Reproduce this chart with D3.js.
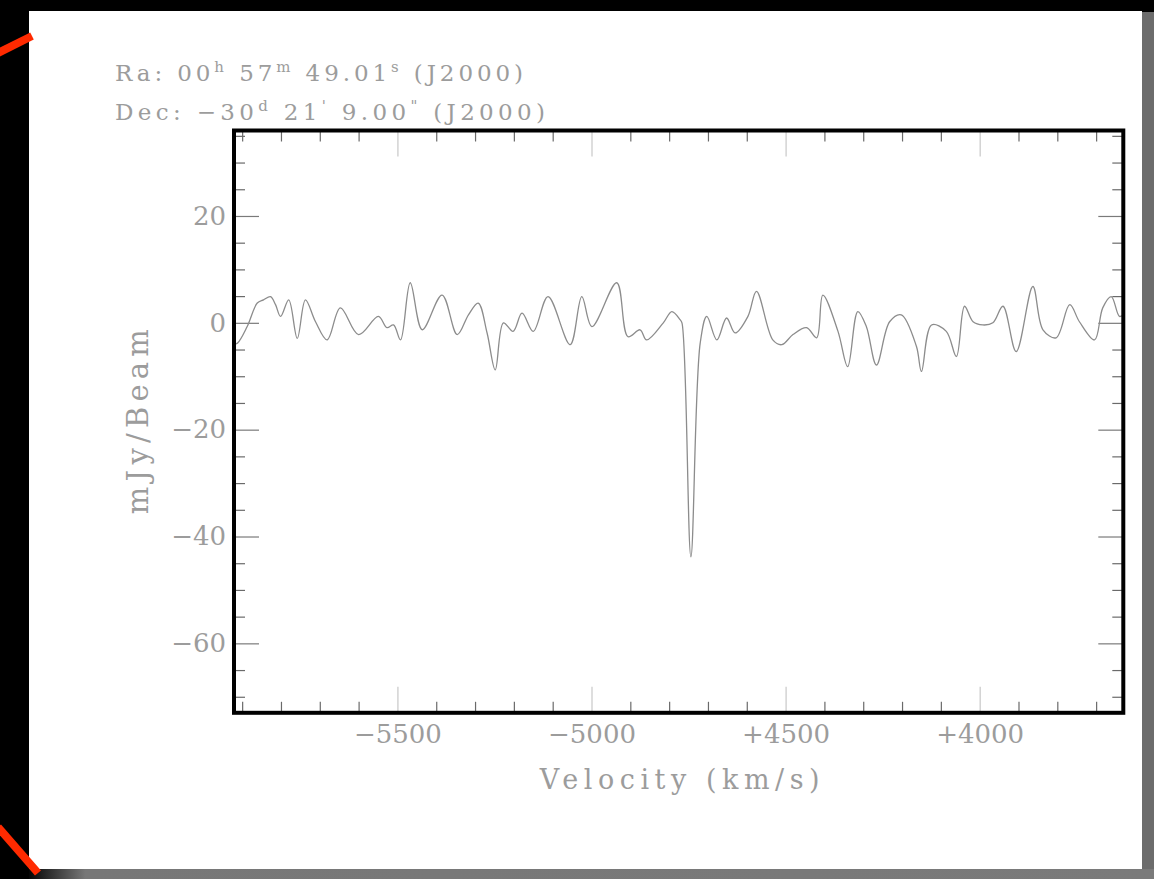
<!DOCTYPE html>
<html>
<head>
<meta charset="utf-8">
<script src="https://cdn.jsdelivr.net/npm/d3@7"></script>
<style>
  html, body { margin: 0; padding: 0; background: #000; }
  svg { display: block; }
</style>
</head>
<body>
<svg id="chart" width="1154" height="879"></svg>
<script>
// ---- data ----
const velocity = [
  -5922, -5912, -5887, -5861, -5845, -5827, -5814, -5801, -5780, -5758,
  -5737, -5711, -5681, -5647, -5600, -5549, -5527, -5510, -5492, -5467,
  -5436, -5385, -5346, -5317, -5292, -5269, -5248, -5227, -5202, -5179,
  -5150, -5112, -5055, -5025, -4999, -4935, -4906, -4875, -4858, -4815,
  -4793, -4772, -4767, -4744, -4720, -4703, -4677, -4652, -4630, -4597,
  -4575, -4533, -4510, -4481, -4446, -4420, -4404, -4365, -4340, -4314,
  -4292, -4266, -4232, -4202, -4163, -4150, -4124, -4086, -4060, -4039,
  -4017, -3992, -3966, -3940, -3906, -3863, -3837, -3803, -3768, -3743,
  -3704, -3683, -3661, -3640, -3630
];
const flux = [
  -4.0, -3.8, -0.7, 3.7, 4.3, 4.9, 3.4, 1.2, 4.3, -2.9,
  4.3, 0.2, -3.2, 2.8, -2.2, 1.2, -0.9, -0.4, -3.2, 7.5,
  -1.3, 5.2, -2.2, 1.5, 3.7, -1.9, -8.8, 0.0, -1.6, 1.8,
  -1.6, 4.9, -4.1, 4.9, -0.7, 7.5, -2.6, -1.3, -3.2, 0.0,
  2.1, 0.6, 0.0, -43.8, -3.8, 1.2, -3.2, 0.9, -1.9, 1.2,
  5.9, -3.2, -4.1, -2.2, -0.9, -2.8, 5.2, -1.6, -8.2, 2.1,
  -0.7, -7.9, 0.2, 1.5, -4.4, -9.1, -0.4, -1.6, -6.3, 3.1,
  0.2, -0.4, 0.0, 3.1, -5.4, 6.8, -1.3, -2.8, 3.4, 0.2,
  -3.2, 2.8, 4.9, 1.2, 1.5
];
const xDomain = [-5921, -3630];
const yDomain = [-73, 36];
const xMajorTicks = [-5500, -5000, -4500, -4000];
const xMajorLabels = ["\u22125500", "\u22125000", "+4500", "+4000"];
const xMinorTicks = [-5900, -5800, -5700, -5600, -5400, -5300, -5200, -5100,
                     -4900, -4800, -4700, -4600, -4400, -4300, -4200, -4100,
                     -3900, -3800, -3700];
const yMajorTicks = [20, 0, -20, -40, -60];
const yMajorLabels = ["20", "0", "\u221220", "\u221240", "\u221260"];
const yMinorTicks = [35, 30, 25, 15, 10, 5, -5, -10, -15, -25, -30, -35,
                     -45, -50, -55, -65, -70];
const xTitle = "Velocity (km/s)";
const yTitle = "mJy/Beam";

// ---- layout ----
const svg = d3.select("#chart");
const L = 234, R = 1123.3, T = 130.5, B = 712.8;
const font = "'DejaVu Serif', 'Liberation Serif', serif";
const textGray = "#9c9c9c";

// frame / background
const defs = svg.append("defs");
const grad = defs.append("linearGradient").attr("id", "shade")
  .attr("x1", "0").attr("x2", "1").attr("y1", "0").attr("y2", "0");
grad.append("stop").attr("offset", "0").attr("stop-color", "#050505");
grad.append("stop").attr("offset", "0.05").attr("stop-color", "#777");
grad.append("stop").attr("offset", "1").attr("stop-color", "#7a7a7a");
defs.append("clipPath").attr("id", "plotclip").append("rect")
  .attr("x", L).attr("y", T).attr("width", R - L).attr("height", B - T);

svg.append("rect").attr("x", 1142).attr("y", 12).attr("width", 12).attr("height", 867).attr("fill", "#6c6c6c");
svg.append("rect").attr("x", 29).attr("y", 869).attr("width", 1125).attr("height", 10).attr("fill", "url(#shade)");
svg.append("rect").attr("x", 29).attr("y", 11).attr("width", 1113).attr("height", 858).attr("fill", "#fff");
svg.append("line").attr("x1", -2).attr("y1", 53).attr("x2", 32).attr("y2", 36)
  .attr("stroke", "#ff2a00").attr("stroke-width", 8);
svg.append("line").attr("x1", -2).attr("y1", 827).attr("x2", 38).attr("y2", 873)
  .attr("stroke", "#ff2a00").attr("stroke-width", 8);

// scales
const x = d3.scaleLinear().domain(xDomain).range([L, R]);
const y = d3.scaleLinear().domain(yDomain).range([B, T]);

function styleAxis(g, color, width) {
  g.select(".domain").remove();
  g.selectAll(".tick line").attr("stroke", color).attr("stroke-width", width);
  g.selectAll("text").attr("fill", textGray).attr("font-family", font).attr("font-size", 26);
}

// x axes (inward ticks)
const bottomMajor = svg.append("g").attr("transform", `translate(0,${B})`)
  .call(d3.axisBottom(x).tickValues(xMajorTicks).tickSize(-26).tickPadding(0)
        .tickFormat((d, i) => xMajorLabels[i]));
styleAxis(bottomMajor, "#c8c8c8", 1.2);
bottomMajor.selectAll("text").attr("y", 30).attr("dy", 0);
const bottomMinor = svg.append("g").attr("transform", `translate(0,${B})`)
  .call(d3.axisBottom(x).tickValues(xMinorTicks).tickSize(-11).tickFormat(""));
styleAxis(bottomMinor, "#6a6a6a", 1.2);
const topMajor = svg.append("g").attr("transform", `translate(0,${T})`)
  .call(d3.axisTop(x).tickValues(xMajorTicks).tickSize(-26).tickFormat(""));
styleAxis(topMajor, "#c8c8c8", 1.2);
const topMinor = svg.append("g").attr("transform", `translate(0,${T})`)
  .call(d3.axisTop(x).tickValues(xMinorTicks).tickSize(-11).tickFormat(""));
styleAxis(topMinor, "#6a6a6a", 1.2);

// y axes (inward ticks)
const leftMajor = svg.append("g").attr("transform", `translate(${L},0)`)
  .call(d3.axisLeft(y).tickValues(yMajorTicks).tickSize(-25).tickPadding(8)
        .tickFormat((d, i) => yMajorLabels[i]));
styleAxis(leftMajor, "#7a7a7a", 1.2);
const leftMinor = svg.append("g").attr("transform", `translate(${L},0)`)
  .call(d3.axisLeft(y).tickValues(yMinorTicks).tickSize(-11).tickFormat(""));
styleAxis(leftMinor, "#6a6a6a", 1.2);
const rightMajor = svg.append("g").attr("transform", `translate(${R},0)`)
  .call(d3.axisRight(y).tickValues(yMajorTicks).tickSize(-25).tickFormat(""));
styleAxis(rightMajor, "#7a7a7a", 1.2);
const rightMinor = svg.append("g").attr("transform", `translate(${R},0)`)
  .call(d3.axisRight(y).tickValues(yMinorTicks).tickSize(-11).tickFormat(""));
styleAxis(rightMinor, "#6a6a6a", 1.2);

// spectrum
const line = d3.line().curve(d3.curveCatmullRom.alpha(0.5))
  .x((d, i) => x(velocity[i])).y(d => y(d));
svg.append("path").datum(flux)
  .attr("clip-path", "url(#plotclip)")
  .attr("d", line)
  .attr("fill", "none").attr("stroke", "#8c8c8c").attr("stroke-width", 1.3)
  .attr("stroke-linejoin", "round");

// frame box
svg.append("rect").attr("x", L).attr("y", T).attr("width", R - L).attr("height", B - T)
  .attr("fill", "none").attr("stroke", "#000").attr("stroke-width", 4);

// axis titles
svg.append("text").attr("x", (L + R) / 2 + 1).attr("y", 789)
  .attr("text-anchor", "middle").attr("font-family", font).attr("font-size", 27)
  .attr("fill", textGray).attr("textLength", 280).attr("lengthAdjust", "spacing")
  .text(xTitle);
svg.append("text").attr("transform", `translate(148,${(T + B) / 2}) rotate(-90)`)
  .attr("text-anchor", "middle").attr("font-family", font).attr("font-size", 29)
  .attr("fill", textGray).attr("textLength", 185).attr("lengthAdjust", "spacing")
  .text(yTitle);

// header coordinates
const ra = svg.append("text").attr("x", 115).attr("y", 81)
  .attr("font-family", font).attr("font-size", 23).attr("fill", textGray)
  .attr("textLength", 408).attr("lengthAdjust", "spacing");
ra.append("tspan").text("Ra: 00");
ra.append("tspan").attr("dy", -9).attr("font-size", 15).text("h");
ra.append("tspan").attr("dy", 9).text("  57");
ra.append("tspan").attr("dy", -9).attr("font-size", 15).text("m");
ra.append("tspan").attr("dy", 9).text("  49.01");
ra.append("tspan").attr("dy", -9).attr("font-size", 15).text("s");
ra.append("tspan").attr("dy", 9).text(" (J2000)");

const dec = svg.append("text").attr("x", 115).attr("y", 120)
  .attr("font-family", font).attr("font-size", 23).attr("fill", textGray)
  .attr("textLength", 430).attr("lengthAdjust", "spacing");
dec.append("tspan").text("Dec:  \u221230");
dec.append("tspan").attr("dy", -9).attr("font-size", 15).text("d");
dec.append("tspan").attr("dy", 9).text(" 21");
dec.append("tspan").attr("dy", -9).attr("font-size", 15).text("'");
dec.append("tspan").attr("dy", 9).text("   9.00");
dec.append("tspan").attr("dy", -9).attr("font-size", 15).text("\"");
dec.append("tspan").attr("dy", 9).text("  (J2000)");
</script>
</body>
</html>
